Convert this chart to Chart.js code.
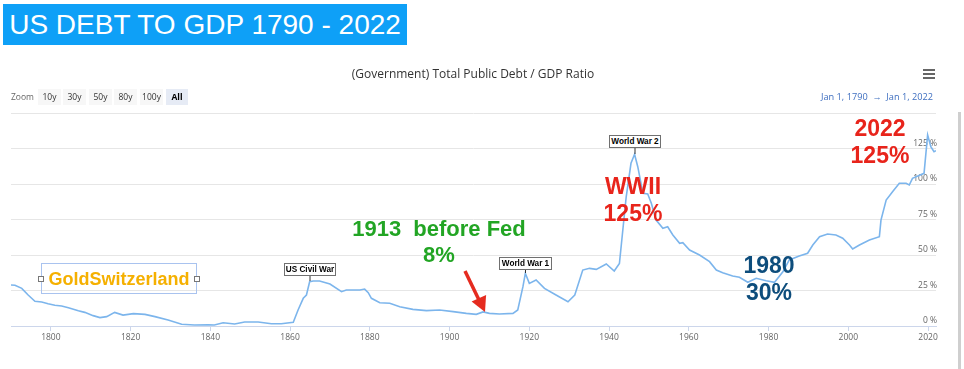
<!DOCTYPE html>
<html>
<head>
<meta charset="utf-8">
<script src="https://cdn.jsdelivr.net/npm/chart.js@4.4.1/dist/chart.umd.min.js"></script>
<style>
    body { margin: 0; background: #ffffff; }
    #wrap { position: relative; width: 964px; height: 369px; overflow: hidden; font-family: 'Liberation Sans', Arial, sans-serif; }
    #debtChart { position: absolute; left: 0; top: 0; }
    .abs { position: absolute; white-space: pre; }
    .big { font-weight: bold; font-size: 23px; text-align: center; }
    .flag { position: absolute; background: #fff; border: 1px solid #707070; font: bold 8.2px 'Liberation Sans', Arial, sans-serif; color: #000; text-align: center; box-sizing: border-box; line-height: 11px; white-space: nowrap; }
    .btn { position: absolute; top: 89px; height: 16px; width: 23px; background: #f7f7f7; font: 8.5px 'Open Sans', sans-serif; color: #333; text-align: center; line-height: 16px; }
</style>
</head>
<body>
<div id="wrap">
    <canvas id="debtChart" width="964" height="369"></canvas>

    <!-- header -->
    <div class="abs" style="left:3px; top:4px; width:404px; height:41px; background:#0ea0f7; color:#fff; font-size:28px; line-height:41px; text-align:center;">US DEBT TO GDP 1790 - 2022</div>
    <div class="abs" style="left:273px; top:65px; width:400px; text-align:center; font:12px 'Open Sans', sans-serif; color:#333;">(Government) Total Public Debt / GDP Ratio</div>
    <div class="abs" style="left:11px; top:91px; font:8.5px 'Open Sans', sans-serif; color:#666;">Zoom</div>
    <div class="btn" style="left:38px;">10y</div>
    <div class="btn" style="left:63px;">30y</div>
    <div class="btn" style="left:89px;">50y</div>
    <div class="btn" style="left:114px;">80y</div>
    <div class="btn" style="left:140px;">100y</div>
    <div class="btn" style="left:166px; width:22px; background:#e6ebf5; font-weight:bold; color:#000;">All</div>
    <div class="abs" style="right:31px; top:90px; font:9.2px 'Open Sans', sans-serif; color:#3f6fc0;">Jan 1, 1790  →  Jan 1, 2022</div>
    <div class="abs" style="left:923px; top:69px; width:12px; height:2px; background:#666;"></div>
    <div class="abs" style="left:923px; top:73px; width:12px; height:2px; background:#666;"></div>
    <div class="abs" style="left:923px; top:77px; width:12px; height:2px; background:#666;"></div>
    <div class="abs" style="left:958px; top:112px; width:3px; height:257px; background:#cfcfcf;"></div>

    <!-- watermark -->
    <div class="abs" style="left:41px; top:263px; width:156px; height:31px; border:1px solid #a9c3ef; box-sizing:border-box;"></div>
    <div class="abs" style="left:38px; top:276px; width:6px; height:6px; border:1px solid #777; background:#fff; box-sizing:border-box;"></div>
    <div class="abs" style="left:194px; top:276px; width:6px; height:6px; border:1px solid #777; background:#fff; box-sizing:border-box;"></div>
    <div class="abs" style="left:41px; top:268px; width:156px; text-align:center; font-weight:bold; font-size:18px; line-height:22px; color:#f5b000;">GoldSwitzerland</div>

    <!-- event flags -->
    <div class="flag" style="left:284px; top:263px; width:52px; height:13px;">US Civil War</div>
    <div class="flag" style="left:499px; top:257px; width:53px; height:13px;">World War 1</div>
    <div class="flag" style="left:609px; top:135px; width:52px; height:13px;">World War 2</div>

    <!-- call-outs -->
    <div class="abs big" style="left:339px; top:216px; width:200px; line-height:26px; font-size:22px; color:#22a524;">1913  before Fed
8%</div>
    <div class="abs big" style="left:583px; top:173px; width:100px; line-height:27px; color:#e8241b;">WWII
125%</div>
    <div class="abs big" style="left:719px; top:252px; width:100px; line-height:27px; color:#0d4d7c;">1980
30%</div>
    <div class="abs big" style="left:830px; top:115px; width:100px; line-height:27px; color:#e8241b;">2022
125%</div>

    <svg class="abs" style="left:0; top:0;" width="964" height="369">
        <line x1="310" y1="276" x2="310" y2="281" stroke="#333" stroke-width="1"/>
        <line x1="525.5" y1="270" x2="525.5" y2="273" stroke="#333" stroke-width="1"/>
        <line x1="635" y1="148" x2="635" y2="154" stroke="#333" stroke-width="1"/>
        <line x1="465" y1="271" x2="479" y2="300" stroke="#e52b1f" stroke-width="3.5"/>
        <polygon points="485,312 471.6,301.6 486.1,295" fill="#e52b1f"/>
    </svg>
</div>

<script>
// Debt-to-GDP ratio, %
const years = [
    1790, 1791, 1792.7, 1794.3, 1796, 1797.7, 1799.3, 1801, 1802.7, 1804.4,
    1806.9, 1808.5, 1810.6, 1812.3, 1814, 1816, 1818.1, 1820.7, 1823.6, 1826.1,
    1829.4, 1832.8, 1836, 1839.5, 1841, 1843.2, 1846.1, 1848.6, 1852, 1855.3,
    1857.8, 1860.8, 1862, 1863.3, 1864.1, 1864.9, 1865.8, 1867.4, 1870, 1872.9,
    1874.1, 1877.5, 1878.7, 1879.6, 1880.4, 1882.5, 1885, 1887.5, 1890.8, 1894.2,
    1897.5, 1900.9, 1904.2, 1906.7, 1908.4, 1910, 1912.5, 1915.9, 1917.1, 1918.4,
    1919, 1920, 1921.7, 1923.8, 1926.7, 1929.7, 1931.4, 1933.4, 1935.1, 1936.8,
    1939.3, 1941.3, 1942.6, 1944.3, 1945.5, 1946.4, 1947.2, 1948.5, 1949.7, 1950.6,
    1951.8, 1953.5, 1954.7, 1956, 1957.7, 1958.5, 1960.2, 1962.7, 1965.2, 1966.9,
    1968.5, 1971, 1972.7, 1974.8, 1976.9, 1979.4, 1981.5, 1983.6, 1985.2, 1987.7,
    1989.8, 1991.1, 1992.8, 1994.8, 1996.9, 1998.6, 2000.3, 2001.1, 2002.8, 2005.3,
    2007.8, 2008.2, 2009.5, 2011.1, 2012.8, 2014.5, 2015.3, 2016.1, 2019, 2019.9,
    2020.7, 2021.5, 2022
];
const debtRatio = [
    28.9, 28.7, 26.5, 21.8, 17.4, 16.9, 15.7, 14.6, 14.1, 12.9,
    10.8, 9.6, 7.3, 5.9, 6.6, 9.6, 7.7, 8.7, 8.2, 6.6,
    4.2, 1.2, 0.7, 0.9, 0.7, 2.3, 1.4, 2.8, 2.8, 1.6,
    1.6, 2.6, 11.3, 19.5, 21.8, 31.2, 31.7, 31.7, 29.6, 24.2,
    25.4, 25.4, 26, 23.5, 19.5, 16.4, 16, 13.6, 11.7, 10.8,
    11.3, 10.1, 8.9, 8.2, 9.9, 8.9, 8.5, 8.9, 11.3, 27.7,
    37.1, 30, 32.4, 26.5, 21.8, 17.1, 21.8, 39.4, 40.6, 39.9,
    43.7, 38.7, 44.1, 91, 114.6, 120.9, 112.2, 93.4, 93, 86.4,
    74.6, 68.8, 69.9, 64.1, 58.2, 58.7, 53.5, 50, 45.3, 39.4,
    37.5, 35.2, 34.3, 30.8, 33.6, 31.9, 30.8, 38.2, 46.5, 49.3,
    51.2, 57, 62.9, 64.8, 64.1, 61.8, 57, 54.2, 57, 60.6,
    62.9, 74.6, 88.7, 94.6, 100.5, 100.5, 99.3, 104, 107.5, 134.5,
    126.3, 122.7, 123.5
];
const xTicks = [1800, 1820, 1840, 1860, 1880, 1900, 1920, 1940, 1960, 1980, 2000, 2020];
const yTicks = [0, 25, 50, 75, 100, 125, 150];

Chart.defaults.font.family = "'Open Sans', sans-serif";
Chart.defaults.color = '#666666';

const ctx = document.getElementById('debtChart').getContext('2d');
new Chart(ctx, {
    type: 'line',
    data: {
        datasets: [{
            label: 'Debt / GDP',
            data: years.map((yr, i) => ({ x: yr, y: debtRatio[i] })),
            borderColor: '#7cb5ec',
            borderWidth: 1.6,
            pointRadius: 0,
            tension: 0
        }]
    },
    options: {
        responsive: false,
        animation: false,
        layout: { padding: { left: 11, right: 28, top: 113, bottom: 0 } },
        plugins: { legend: { display: false }, tooltip: { enabled: false } },
        scales: {
            x: {
                type: 'linear',
                min: 1790,
                max: 2022,
                afterBuildTicks: scale => { scale.ticks = xTicks.map(v => ({ value: v })); },
                afterFit: scale => { scale.height = 43; },
                grid: { drawOnChartArea: false, color: '#ccd6eb', tickLength: 5 },
                border: { color: '#ccd6eb' },
                ticks: {
                    font: { size: 8.5 },
                    color: '#666',
                    padding: 1,
                    maxRotation: 0,
                    callback: v => String(v)
                }
            },
            y: {
                position: 'right',
                min: 0,
                max: 150,
                afterBuildTicks: scale => { scale.ticks = yTicks.map(v => ({ value: v })); },
                afterFit: scale => { scale.width = 0; },
                grid: { color: '#e6e6e6', drawTicks: false },
                border: { display: false },
                ticks: {
                    mirror: true,
                    padding: 1,
                    labelOffset: -5,
                    font: { size: 8.5 },
                    color: '#666',
                    callback: v => v === 150 ? '' : v + ' %'
                }
            }
        }
    }
});
</script>
</body>
</html>
